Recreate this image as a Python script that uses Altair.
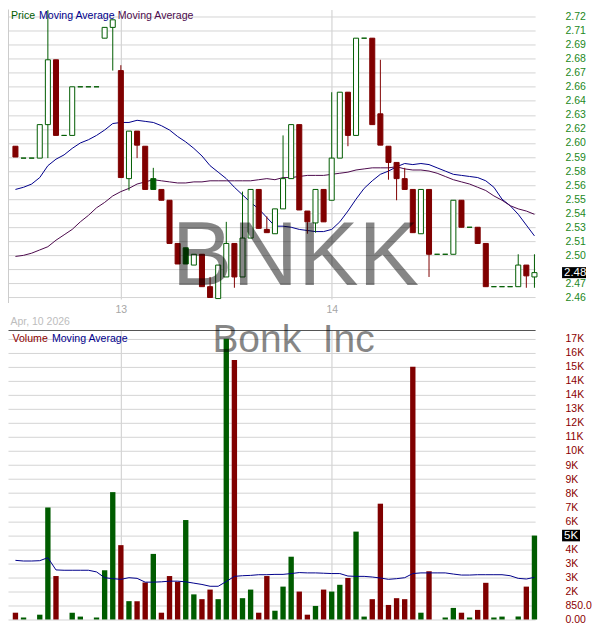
import altair as alt
import pandas as pd

# ---------------- data ----------------
idx = list(range(65))
opens = [2.600, 2.589, 2.589, 2.589, 2.620, 2.680, 2.610, 2.610, 2.655, 2.655,
         2.655, 2.700, 2.710, 2.670, 2.570, 2.614, 2.600, 2.570, 2.560, 2.550,
         2.510, 2.506, 2.490, 2.500, 2.470, 2.459, 2.479, 2.510, 2.479, 2.515,
         2.560, 2.523, 2.519, 2.542, 2.570, 2.620, 2.540, 2.529, 2.560, 2.550,
         2.589, 2.650, 2.610, 2.700, 2.700, 2.630, 2.600, 2.585, 2.570, 2.560,
         2.519, 2.560, 2.500, 2.500, 2.500, 2.550, 2.525, 2.525, 2.510, 2.470,
         2.470, 2.470, 2.470, 2.490, 2.479]
highs = [2.600, 2.589, 2.589, 2.620, 2.726, 2.680, 2.610, 2.655, 2.655, 2.655,
         2.655, 2.710, 2.717, 2.675, 2.614, 2.614, 2.600, 2.580, 2.560, 2.550,
         2.510, 2.506, 2.500, 2.500, 2.479, 2.490, 2.530, 2.510, 2.558, 2.560,
         2.560, 2.535, 2.542, 2.610, 2.620, 2.620, 2.540, 2.560, 2.560, 2.650,
         2.650, 2.650, 2.700, 2.700, 2.700, 2.680, 2.600, 2.585, 2.580, 2.560,
         2.560, 2.560, 2.500, 2.500, 2.550, 2.550, 2.525, 2.525, 2.510, 2.470,
         2.470, 2.470, 2.500, 2.490, 2.500]
lows = [2.590, 2.589, 2.589, 2.589, 2.589, 2.610, 2.610, 2.610, 2.655, 2.655,
        2.655, 2.700, 2.670, 2.571, 2.559, 2.589, 2.560, 2.560, 2.550, 2.510,
        2.491, 2.491, 2.490, 2.470, 2.460, 2.459, 2.479, 2.469, 2.479, 2.515,
        2.524, 2.520, 2.519, 2.542, 2.570, 2.541, 2.519, 2.520, 2.530, 2.550,
        2.589, 2.600, 2.610, 2.700, 2.620, 2.601, 2.569, 2.550, 2.560, 2.520,
        2.519, 2.479, 2.500, 2.500, 2.500, 2.525, 2.525, 2.510, 2.470, 2.470,
        2.470, 2.470, 2.470, 2.469, 2.469]
closes = [2.590, 2.589, 2.589, 2.620, 2.680, 2.610, 2.610, 2.655, 2.655, 2.655,
          2.655, 2.710, 2.717, 2.571, 2.614, 2.601, 2.560, 2.560, 2.550, 2.510,
          2.491, 2.491, 2.500, 2.470, 2.460, 2.490, 2.510, 2.479, 2.515, 2.560,
          2.524, 2.520, 2.542, 2.570, 2.620, 2.541, 2.530, 2.560, 2.530, 2.589,
          2.650, 2.610, 2.700, 2.700, 2.620, 2.601, 2.585, 2.570, 2.560, 2.520,
          2.560, 2.500, 2.500, 2.500, 2.550, 2.525, 2.525, 2.510, 2.470, 2.470,
          2.470, 2.470, 2.490, 2.480, 2.483]
# G = closed at/above previous close, R = below
colors = ["R", "G", "G", "G", "G", "R", "G", "G", "G", "G",
          "G", "G", "G", "R", "G", "R", "R", "G", "R", "R",
          "R", "G", "G", "R", "R", "G", "G", "R", "G", "G",
          "R", "R", "G", "G", "G", "R", "R", "G", "R", "G",
          "G", "R", "G", "G", "R", "R", "R", "R", "R", "R",
          "G", "R", "G", "G", "G", "R", "G", "R", "R", "G",
          "G", "G", "G", "R", "G"]
volumes = [410, 120, 0, 290, 6780, 2630, 0, 410, 175, 0,
           120, 2980, 7710, 4500, 1110, 1110, 2240, 3970, 410, 2630,
           2280, 6020, 1520, 1230, 1810, 1230, 17000, 15710, 1290, 1810,
           410, 2630, 530, 1990, 3800, 1690, 290, 820, 1810, 1690,
           2100, 2510, 5320, 175, 1230, 7010, 880, 1290, 1230, 15300,
           410, 2920, 0, 120, 700, 410, 120, 580, 2220, 120,
           175, 0, 175, 1990, 5080]
ma_fast = [2.560, 2.562, 2.565, 2.571, 2.582, 2.588, 2.592, 2.598, 2.603, 2.606,
           2.610, 2.615, 2.621, 2.622, 2.622, 2.624, 2.623, 2.622, 2.619, 2.615,
           2.609, 2.604, 2.598, 2.591, 2.582, 2.576, 2.570, 2.562, 2.555, 2.548,
           2.542, 2.534, 2.526, 2.526, 2.525, 2.523, 2.522, 2.521, 2.521, 2.523,
           2.530, 2.540, 2.551, 2.561, 2.568, 2.574, 2.577, 2.581, 2.584, 2.583,
           2.584, 2.583, 2.580, 2.577, 2.574, 2.573, 2.572, 2.571, 2.568, 2.562,
           2.551, 2.545, 2.537, 2.527, 2.517]
ma_slow = [2.498, 2.499, 2.501, 2.504, 2.507, 2.513, 2.518, 2.523, 2.530, 2.536,
           2.543, 2.548, 2.554, 2.558, 2.561, 2.565, 2.567, 2.569, 2.568, 2.567,
           2.566, 2.566, 2.567, 2.567, 2.568, 2.568, 2.568, 2.568, 2.568, 2.568,
           2.569, 2.570, 2.569, 2.571, 2.571, 2.572, 2.573, 2.573, 2.573, 2.574,
           2.575, 2.576, 2.578, 2.579, 2.580, 2.580, 2.580, 2.581, 2.579, 2.578,
           2.578, 2.577, 2.575, 2.572, 2.569, 2.567, 2.565, 2.562, 2.559, 2.554,
           2.550, 2.545, 2.542, 2.540, 2.537]
vol_ma = [3580, 3540, 3540, 3560, 3740, 3000, 2980, 2980, 2980, 2980,
          2880, 2530, 2470, 2430, 2530, 2490, 2260, 2260, 2280, 2320,
          2320, 2280, 2200, 2120, 2010, 2010, 2300, 2610, 2650, 2670,
          2710, 2710, 2730, 2730, 2780, 2840, 2820, 2820, 2800, 2780,
          2780, 2630, 2610, 2610, 2570, 2510, 2430, 2470, 2530, 2780,
          2820, 2820, 2820, 2820, 2750, 2690, 2690, 2710, 2710, 2710,
          2710, 2650, 2490, 2450, 2550]

price_ticks = [2.46, 2.473, 2.486, 2.499, 2.512, 2.5251, 2.538, 2.551, 2.564, 2.577,
               2.59, 2.603, 2.616, 2.629, 2.642, 2.6551, 2.668, 2.681, 2.694, 2.707, 2.72]
vol_ticks = [0, 850, 1700, 2550, 3400, 4250, 5100, 5950, 6800, 7650, 8500,
             9350, 10200, 11050, 11900, 12750, 13600, 14450, 15300, 16150, 17000]
day_ticks = [13, 39]
day_labels = ["13", "14"]
date_label = "Apr, 10 2026"
symbol = "BNKK"
company = "Bonk\u00a0\u00a0Inc"

# ---------------- styling ----------------
FONT = "Liberation Sans"
GREEN = "#005c00"
RED = "#800000"
VGREEN = "#006400"
VRED = "#8b0000"
BLUE = "#00008b"
PURPLE = "#4c0a4c"
GRID = "#d4d4d4"
W, H1, H2 = 528, 290, 290
X_DOM = [-0.917, 64.08]
P_DOM = [2.45857, 2.72652]
V_DOM = [0, 17526]

df = pd.DataFrame(dict(i=idx, o=opens, h=highs, l=lows, c=closes, col=colors,
                       v=volumes, maf=ma_fast, mas=ma_slow, vma=vol_ma))
df["fk"] = [cl if c <= o else "W" for o, c, cl in zip(opens, closes, colors)]

xscale = alt.Scale(domain=X_DOM, nice=False, zero=False)
pscale = alt.Scale(domain=P_DOM, nice=False, zero=False)
vscale = alt.Scale(domain=V_DOM, nice=False, zero=False)
cscale = alt.Scale(domain=["G", "R", "W"], range=[GREEN, RED, "white"])
vcscale = alt.Scale(domain=["G", "R"], range=[VGREEN, VRED])

last_close = closes[-1]
last_vol = volumes[-1]
day_expr = " : ".join(f"datum.value == {t} ? '{l}'" for t, l in zip(day_ticks, day_labels)) + " : ''"

base = alt.Chart(df)
one_row = pd.DataFrame({"t": [""]})


def text_label(txt, x, y, color, size, opacity=1.0, align="left", baseline="middle"):
    return alt.Chart(pd.DataFrame({"t": [txt]})).mark_text(
        align=align, baseline=baseline, color=color, font=FONT, fontSize=size,
        opacity=opacity
    ).encode(x=alt.value(x), y=alt.value(y), text="t:N")


# ---------------- price panel ----------------
PAX = alt.Axis(values=day_ticks, labelExpr=day_expr, grid=True, gridColor="#cccccc",
               domain=False, ticks=False, labelPadding=5,
               labelColor="#a6a6a6", labelFont=FONT, labelFontSize=10.5,
               title=date_label, titleX=2, titleY=23, titleAlign="left",
               titleBaseline="middle", titleColor="#bdbdbd", titleFont=FONT,
               titleFontSize=10.5, titleFontWeight="normal")
PAY = alt.Axis(orient="right", values=price_ticks,
               labelExpr=f"abs(datum.value - {last_close}) < 0.008 ? '' : format(datum.value, '.2f')",
               grid=True, gridColor=GRID, domain=False, ticks=False, labelOverlap=False,
               labelPadding=30, labelColor="#228822", labelFont=FONT,
               labelFontSize=10.5, title="")


def px(field):
    return alt.X(field, scale=xscale, axis=PAX)


def py(field):
    return alt.Y(field, scale=pscale, axis=PAY)


left_edge = alt.Chart(one_row).mark_rule(color="#cccccc", strokeWidth=1).encode(
    x=alt.value(0.5), y=alt.value(0), y2=alt.value(H1 + 4))
ma_f = base.mark_line(color=BLUE, strokeWidth=1).encode(x=px("i:Q"), y=py("maf:Q"))
ma_s = base.mark_line(color=PURPLE, strokeWidth=1).encode(x=px("i:Q"), y=py("mas:Q"))
wicks = base.mark_rule(strokeWidth=1).encode(
    x=px("i:Q"), y=py("l:Q"), y2="h:Q",
    stroke=alt.Stroke("col:N", scale=cscale, legend=None))
bodies = base.transform_calculate(
    x0="datum.i - 0.31", x1="datum.i + 0.31"
).mark_rect(strokeWidth=1).encode(
    x=px("x0:Q"), x2="x1:Q",
    y=py("o:Q"), y2="c:Q",
    stroke=alt.Stroke("col:N", scale=cscale, legend=None),
    fill=alt.Fill("fk:N", scale=cscale, legend=None))
pbox = base.transform_filter(f"datum.i == {idx[-1]}").transform_calculate(
    b0="datum.c - 0.0051", b1="datum.c + 0.0051"
).mark_rect(color="black").encode(
    x=alt.value(W + 27), x2=alt.value(W + 51),
    y=py("b0:Q"), y2="b1:Q")
ptxt = base.transform_filter(f"datum.i == {idx[-1]}").mark_text(
    align="left", baseline="middle", color="white", font=FONT, fontSize=11.5
).encode(x=alt.value(W + 29), y=py("c:Q"),
         text=alt.Text("c:Q", format=".2f"))

price = alt.layer(
    left_edge, ma_f, ma_s, wicks, bodies, pbox, ptxt,
    text_label("Price", 3, 6.5, GREEN, 10.6),
    text_label("Moving Average", 31, 6.5, BLUE, 10.6),
    text_label("Moving Average", 110, 6.5, PURPLE, 10.6),
    text_label(symbol, 288, 275.6, "black", 91, opacity=0.47, align="center", baseline="alphabetic"),
).properties(width=W, height=H1)

# ---------------- volume panel ----------------
VAX = alt.Axis(orient="top", values=day_ticks, labels=False, grid=True, gridColor="#cccccc",
               domain=True, domainColor="#555555", domainWidth=1.2,
               ticks=False, title="")
VAY = alt.Axis(orient="right", values=vol_ticks,
               labelExpr=(f"abs(datum.value - {last_vol}) < 400 ? '' : datum.value == 0 ? '0.00' : "
                          "datum.value < 1000 ? format(datum.value, '.1f') : round(datum.value / 1000) + 'K'"),
               grid=True, gridColor=GRID, domain=False, ticks=False, labelOverlap=False,
               labelPadding=30, labelColor=VRED, labelFont=FONT, labelFontSize=10.5,
               title="")


def vx(field):
    return alt.X(field, scale=xscale, axis=VAX)


def vy(field):
    return alt.Y(field, scale=vscale, axis=VAY)


vbars = base.transform_calculate(
    x0="datum.i - 0.33", x1="datum.i + 0.33"
).mark_rect().encode(
    x=vx("x0:Q"), x2="x1:Q",
    y=vy("v:Q"), y2=alt.datum(0),
    fill=alt.Fill("col:N", scale=vcscale, legend=None))
vma = base.mark_line(color=BLUE, strokeWidth=1).encode(x=vx("i:Q"), y=vy("vma:Q"))
vbox = base.transform_filter(f"datum.i == {idx[-1]}").transform_calculate(
    b0="datum.v - 350", b1="datum.v + 350"
).mark_rect(color="black").encode(
    x=alt.value(W + 27), x2=alt.value(W + 45),
    y=vy("b0:Q"), y2="b1:Q")
vtxt = base.transform_filter(f"datum.i == {idx[-1]}").transform_calculate(
    vk="round(datum.v / 1000) + 'K'"
).mark_text(align="left", baseline="middle", color="white", font=FONT, fontSize=11.5).encode(
    x=alt.value(W + 29), y=vy("v:Q"), text="vk:N")

volume = alt.layer(
    vbars, vma, vbox, vtxt,
    text_label("Volume", 4.5, 8.7, VRED, 10.6),
    text_label("Moving Average", 44, 8.7, BLUE, 10.6),
    text_label(company, 286, 22, "black", 39, opacity=0.47, align="center", baseline="alphabetic"),
).properties(width=W, height=H2)

chart = alt.vconcat(price, volume, spacing=31, bounds="flush").properties(
    padding=0, background="white"
).configure(font=FONT).configure_view(strokeWidth=0)

chart.save("out.html", embed_options={"renderer": "svg", "actions": False})
